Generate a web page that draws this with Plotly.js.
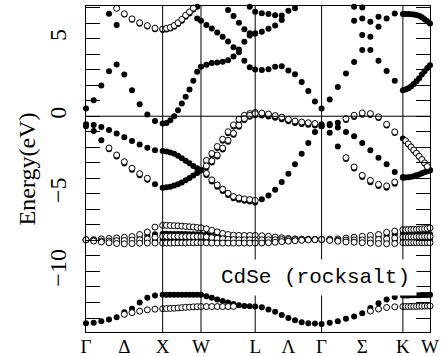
<!DOCTYPE html>
<html><head><meta charset="utf-8">
<script src="https://cdn.plot.ly/plotly-3.0.1.min.js"></script>
<style>html,body{margin:0;padding:0;background:#fff}#chart{width:447px;height:356px}</style>
</head><body><div id="chart"></div>
<script>
// High-symmetry path labels and node positions (units of 2π/a)
const pathLabels = ['Γ','Δ','X','W','L','Λ','Γ','Σ','K','W'];
const kNodes = [0, 1.0, 1.5, 2.2071, 3.0731, 4.1338, 4.4874];
const N = null;

// Each band: 61 values = Γ-X (11), X-W (10), W-L (10), L-Γ (10), Γ-K (10), K-W (10)
// ---- filled circles ----
const cb1 = [0.5,1.03,1.98,2.9,3.33,2.69,1.68,0.77,0.11,-0.3,-0.47,
 -0.43,-0.26,0.0,0.39,0.82,1.25,1.72,2.28,2.86,3.18,
 3.32,3.43,3.46,3.51,3.6,3.85,4.3,4.8,5.2,5.33,
 5.44,5.63,5.85,6.2,N,N,N,N,N,N,
 N,N,N,6.15,5.23,4.26,3.57,2.92,2.28,1.68,
 1.72,1.8,1.92,2.07,2.25,2.45,2.68,2.9,3.1,3.29];
const cb2 = [N,N,N,6.6,5.87,6.55,6.22,5.96,5.78,5.6,5.55,
 5.59,5.65,5.76,5.94,6.15,6.41,6.62,6.88,7.05,6.15,
 5.88,5.65,5.4,5.12,4.82,4.45,4.12,3.58,3.15,3.01,
 2.97,3.02,3.18,3.22,2.95,2.71,2.21,1.63,0.95,0.5,
 1.08,1.89,2.75,3.5,4.26,5.12,5.77,6.3,6.62,6.58,
 6.58,6.58,6.57,6.55,6.52,6.47,6.38,6.25,6.12,5.98];
const cb3 = [N,N,N,N,N,N,N,N,N,N,N,
 N,N,N,N,N,N,N,N,6.3,N,
 N,N,N,N,6.85,6.45,6.02,5.6,5.35,5.33,
 N,N,N,N,N,N,N,N,N,N,
 N,N,N,7.05,6.3,6.08,6.41,N,N,N,
 N,N,N,N,N,N,N,N,N,N];
const cb4 = [N,N,N,N,N,N,N,N,N,N,N,
 N,N,N,N,N,N,N,N,N,N,
 N,N,N,N,N,N,N,N,7.05,6.73,
 6.64,6.58,6.5,6.48,6.8,6.95,N,N,N,N,
 N,N,N,N,7.0,N,N,N,N,N,
 N,N,N,N,N,N,N,N,N,N];
const vb1 = [-0.52,-0.56,-0.69,-0.88,-1.12,-1.35,-1.6,-1.82,-2.03,-2.19,-2.24,
 -2.27,-2.33,-2.42,-2.55,-2.7,-2.87,-3.03,-3.2,-3.35,-3.48,
 -2.95,-2.5,-2.05,-1.58,-1.1,-0.66,-0.3,-0.04,0.08,0.15,
 0.12,0.06,-0.04,-0.14,-0.28,-0.39,-0.45,-0.49,-0.52,-0.52,
 -0.5,-0.42,-0.25,-0.05,0.1,0.08,-0.12,-0.6,-1.08,-1.44,
 -1.62,-1.82,-2.02,-2.22,-2.42,-2.62,-2.83,-3.05,-3.27,-3.48];
const vb2 = [N,N,N,N,N,N,N,N,N,N,N,
 N,N,N,N,N,N,N,N,N,-3.48,
 -3.3,-2.98,-2.6,-2.15,-1.65,-1.2,-0.68,-0.25,-0.04,0.07,
 0.04,-0.02,-0.1,-0.2,-0.33,-0.43,-0.5,-0.55,-0.6,-0.65,
 -0.58,-0.72,-1.01,-1.29,-1.72,-2.19,-2.67,-3.1,-3.59,-3.91,
 -3.95,-3.93,-3.9,-3.86,-3.81,-3.75,-3.68,-3.61,-3.55,-3.48];
const vb3 = [-0.65,-0.95,-1.55,-2.12,-2.6,-3.05,-3.45,-3.8,-4.1,-4.38,-4.6,
 -4.58,-4.54,-4.47,-4.38,-4.27,-4.13,-3.98,-3.82,-3.65,-3.48,
 -3.78,-4.2,-4.55,-4.82,-5.08,-5.28,-5.38,-5.45,-5.5,-5.55,
 -5.35,-5.1,-4.73,-4.24,-3.7,-3.1,-2.41,-1.72,-1.01,-0.65,
 -1.07,-1.95,-2.75,-3.37,-3.92,-4.25,-4.5,-4.6,-4.35,-3.96,
 N,N,N,N,N,N,N,N,N,N];
const dB = [-7.96,-7.98,-7.98,-7.96,-7.94,-7.92,-7.88,-7.8,-7.7,-7.6,-7.57,
 -7.57,-7.58,-7.58,-7.58,-7.59,-7.59,-7.6,-7.6,-7.6,-7.6,
 -7.62,-7.65,-7.7,-7.75,-7.8,-7.85,-7.9,-7.93,-7.95,-7.96,
 -7.96,-7.96,-7.96,-7.96,-7.95,-7.95,-7.94,-7.94,-7.94,-7.94,
 -7.94,-7.94,-7.92,-7.9,-7.86,-7.82,-7.78,-7.68,-7.61,-7.55,
 -7.55,-7.56,-7.56,-7.57,-7.57,-7.58,-7.58,-7.59,-7.59,-7.6];
const dD = [-7.96,-8.02,-8.06,-8.1,-8.12,-8.13,-8.12,-8.1,-8.06,-8.0,-7.96,
 -7.96,-7.96,-7.96,-7.96,-7.96,-7.96,-7.96,-7.96,-7.96,-7.96,
 -7.98,-8.0,-8.02,-8.05,-8.08,-8.1,-8.12,-8.14,-8.15,-8.17,
 -8.15,-8.12,-8.09,-8.06,-8.03,-8.0,-7.98,-7.96,-7.95,-7.94,
 -7.98,-8.02,-8.06,-8.08,-8.08,-8.06,-8.04,-8.04,-8.02,-7.98,
 -7.98,-7.98,-7.97,-7.97,-7.97,-7.96,-7.96,-7.96,-7.96,-7.96];
const sF = [-13.33,-13.3,-13.2,-13.1,-12.95,-12.62,-12.4,-12.0,-11.7,-11.55,-11.5,
 -11.5,-11.5,-11.5,-11.5,-11.5,-11.5,-11.5,-11.5,-11.5,-11.5,
 -11.6,-11.7,-11.8,-11.9,-12.0,-12.1,-12.17,-12.22,-12.24,-12.25,
 -12.3,-12.45,-12.6,-12.8,-13.0,-13.15,-13.27,-13.33,-13.36,-13.38,
 -13.3,-13.2,-13.05,-12.9,-12.7,-12.35,-12.05,-11.8,-11.65,-11.55,
 -11.55,-11.55,-11.54,-11.54,-11.53,-11.53,-11.52,-11.52,-11.51,-11.5];

// ---- open circles ----
const ocb = [N,N,N,N,6.95,6.6,6.27,6.02,5.84,5.67,5.62,
 5.66,5.72,5.84,6.02,6.24,6.5,6.72,6.96,N,N,
 N,N,N,N,N,N,N,N,N,N,
 N,N,N,N,N,N,N,N,N,N,
 N,N,N,N,N,N,N,N,N,N,
 N,N,N,N,N,N,N,N,N,N];
const ovb1 = [N,N,N,N,N,N,N,N,N,N,N,
 N,N,N,N,N,N,N,N,N,N,
 -2.85,-2.4,-1.95,-1.48,-1.0,-0.56,-0.2,0.06,0.17,0.24,
 0.2,0.14,0.04,-0.06,-0.2,-0.31,-0.38,-0.42,-0.47,N,
 N,N,-0.15,0.06,0.21,0.17,-0.04,-0.52,-1.01,N,
 -1.58,-1.78,-1.98,-2.18,-2.38,-2.58,-2.79,-3.01,-3.24,N];
const ovb2 = [N,N,N,N,N,N,N,N,N,N,N,
 N,N,N,N,N,N,N,N,N,N,
 -3.2,-2.88,-2.5,-2.05,-1.55,-1.1,-0.58,-0.15,0.06,0.17,
 N,N,N,N,N,N,N,N,N,N,
 N,N,N,N,N,N,N,N,N,N,
 N,N,N,N,N,N,N,N,N,N];
const ovb3 = [N,N,N,-2.05,-2.5,-2.93,-3.35,-3.7,-4.0,N,N,
 N,N,N,N,N,N,N,N,N,N,
 -3.68,-4.1,-4.43,-4.7,-4.96,-5.17,-5.26,-5.33,-5.37,-5.42,
 N,N,N,N,N,N,N,N,N,N,
 N,N,-2.67,-3.27,-3.81,-4.13,-4.39,-4.49,-4.24,N,
 N,N,N,N,N,N,N,N,N,N];
const dA = [-7.96,-7.95,-7.9,-7.88,-7.84,-7.8,-7.75,-7.62,-7.46,-7.14,-7.03,
 -7.03,-7.04,-7.05,-7.06,-7.08,-7.1,-7.12,-7.14,-7.17,-7.19,
 -7.25,-7.35,-7.45,-7.55,-7.62,-7.66,-7.68,-7.68,-7.68,-7.68,
 -7.7,-7.74,-7.78,-7.83,-7.87,-7.9,-7.92,-7.93,-7.94,-7.94,
 -7.92,-7.9,-7.85,-7.8,-7.74,-7.68,-7.62,-7.48,-7.4,-7.31,
 -7.31,-7.3,-7.3,-7.29,-7.28,-7.27,-7.26,-7.25,-7.23,-7.19];
const dC = [-7.96,-8.0,-8.04,-8.04,-8.02,-8.0,-7.98,-7.96,-7.9,-7.8,-7.74,
 -7.74,-7.74,-7.74,-7.74,-7.75,-7.75,-7.75,-7.75,-7.75,-7.75,
 -7.78,-7.82,-7.86,-7.9,-7.93,-7.95,-7.96,-7.96,-7.96,-7.96,
 -7.96,-7.96,-7.96,-7.95,-7.95,-7.95,-7.94,-7.94,-7.94,-7.94,
 -7.96,-7.98,-7.98,-7.98,-7.97,-7.96,-7.94,-7.9,-7.85,-7.78,
 -7.78,-7.78,-7.77,-7.77,-7.76,-7.76,-7.76,-7.75,-7.75,-7.75];
const dE = [-7.96,-8.04,-8.1,-8.15,-8.2,-8.22,-8.2,-8.18,-8.17,-8.17,-8.17,
 -8.17,-8.17,-8.16,-8.16,-8.16,-8.16,-8.15,-8.15,-8.15,-8.15,
 -8.16,-8.17,-8.17,-8.17,-8.17,-8.17,-8.17,-8.17,-8.17,-8.17,
 -8.17,-8.15,-8.12,-8.08,-8.05,-8.02,-7.99,-7.97,-7.95,-7.94,
 -8.0,-8.05,-8.1,-8.12,-8.15,-8.17,-8.2,-8.22,-8.2,-8.15,
 -8.15,-8.15,-8.15,-8.15,-8.15,-8.15,-8.15,-8.15,-8.15,-8.15];
const sO = [N,N,N,N,N,-12.76,-12.65,-12.56,-12.47,-12.43,-12.4,
 -12.39,-12.38,-12.37,-12.35,-12.33,-12.31,-12.3,-12.28,-12.27,-12.26,
 -12.26,-12.26,-12.26,-12.26,-12.26,-12.25,N,N,N,N,
 N,N,N,N,N,N,N,N,N,N,
 N,N,N,N,N,-12.55,-12.42,-12.32,-12.28,-12.26,
 -12.26,-12.26,-12.25,-12.25,-12.25,-12.24,-12.24,-12.23,-12.23,-12.22];

// k sampling along the path (10 intervals per segment)
const k = [];
for (let s = 0; s < 6; s++) {
  for (let j = (s === 0 ? 0 : 1); j <= 10; j++) {
    k.push(kNodes[s] + (kNodes[s + 1] - kNodes[s]) * j / 10);
  }
}
const tickPos = [kNodes[0], (kNodes[0] + kNodes[1]) / 2, kNodes[1], kNodes[2], kNodes[3],
  (kNodes[3] + kNodes[4]) / 2, kNodes[4], (kNodes[4] + kNodes[5]) / 2, kNodes[5], kNodes[6]];

const filledSets = [cb1, cb2, cb3, cb4, vb1, vb2, vb3, dB, dD, sF];
const openSets = [ocb, ovb1, ovb2, ovb3, dA, dC, dE, sO];
const traces = [];
filledSets.forEach(y => traces.push({
  x: k, y: y, type: 'scatter', mode: 'markers', cliponaxis: false, hoverinfo: 'skip',
  marker: {size: 6, color: 'black', line: {width: 0}}
}));
openSets.forEach(y => traces.push({
  x: k, y: y, type: 'scatter', mode: 'markers', cliponaxis: false, hoverinfo: 'skip',
  marker: {size: 6, color: 'white', line: {width: 1, color: 'black'}}
}));

const shapes = kNodes.slice(1, 6).map(v => ({
  type: 'line', xref: 'x', yref: 'paper', x0: v, x1: v, y0: 0, y1: 1,
  line: {color: 'black', width: 1}, layer: 'above'
}));
shapes.push({type: 'line', xref: 'paper', yref: 'y', x0: 0, x1: 1, y0: 0, y1: 0,
  line: {color: 'black', width: 1}, layer: 'above'});

const layout = {
  width: 447, height: 356,
  margin: {l: 86, r: 17, t: 6, b: 24},
  paper_bgcolor: 'white', plot_bgcolor: 'white',
  showlegend: false,
  xaxis: {
    range: [0, kNodes[6]], tickmode: 'array', tickvals: tickPos, ticktext: pathLabels,
    ticks: '', showgrid: false, zeroline: false, showline: true, mirror: true,
    linecolor: 'black', linewidth: 1, ticklabelstandoff: -3,
    tickfont: {family: 'Liberation Serif, serif', size: 19, color: 'black'}
  },
  yaxis: {
    range: [-13.9, 7.1], tickmode: 'linear', tick0: 0, dtick: 5,
    ticks: 'inside', ticklen: 14, tickwidth: 1, tickcolor: 'black',
    minor: {tickmode: 'linear', tick0: 0, dtick: 1, ticks: 'inside', ticklen: 14, tickwidth: 1, tickcolor: 'black'},
    showline: true, mirror: 'allticks', linecolor: 'black', linewidth: 1,
    showgrid: false, zeroline: false, tickangle: -90, ticklabelstandoff: 9,
    tickfont: {family: 'Liberation Serif, serif', size: 24, color: 'black'},
    title: {text: 'Energy(eV)', font: {family: 'Liberation Serif, serif', size: 24, color: 'black'}, standoff: 3}
  },
  shapes: shapes,
  annotations: [{
    x: 2.99, y: -10.4, xref: 'x', yref: 'y', text: 'CdSe (rocksalt)', showarrow: false,
    font: {family: 'Liberation Mono, monospace', size: 21, color: 'black'},
    bgcolor: 'white', borderpad: 6
  }]
};

Plotly.newPlot('chart', traces, layout, {staticPlot: true});
</script>
</body></html>
